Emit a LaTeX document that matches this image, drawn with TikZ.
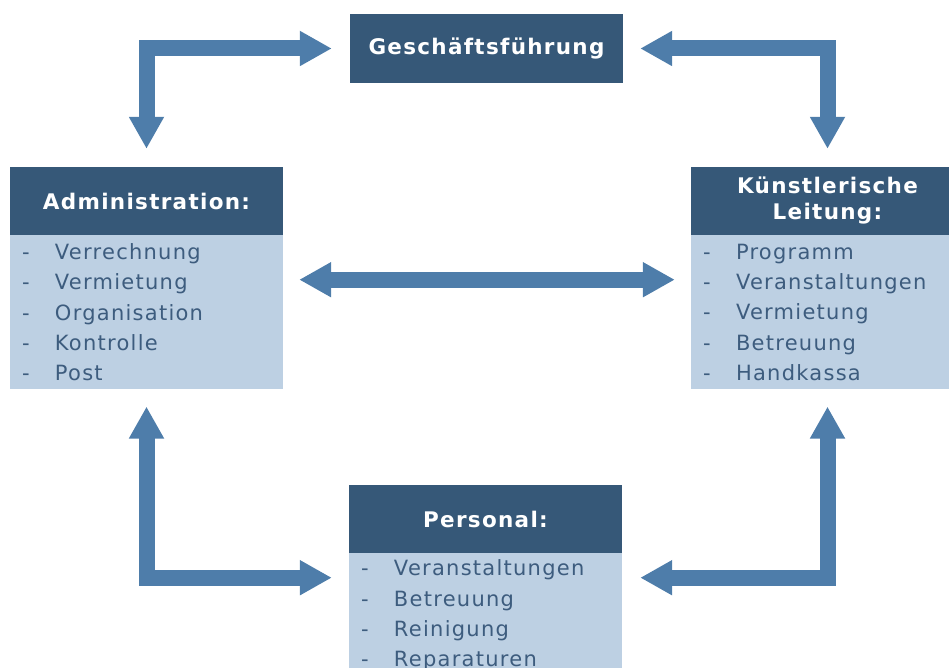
\documentclass[tikz,border=0pt]{standalone}
\usepackage{fontspec}
\setmainfont{DejaVu Sans}[LetterSpace=6]
\usetikzlibrary{arrows.meta}

\definecolor{headblue}{HTML}{365878}
\definecolor{bodyblue}{HTML}{BDD0E3}
\definecolor{arrowblue}{HTML}{4E7DAA}
\definecolor{itemblue}{HTML}{3D5C7E}

\tikzset{
  headbox/.style={fill=headblue, text=white, font=\bfseries\fontsize{21.5}{26}\selectfont,
    minimum width=273pt, minimum height=68pt, inner sep=0pt, align=center},
  listbox/.style={fill=bodyblue, text=itemblue, font=\fontsize{21}{30.3}\selectfont,
    anchor=north, inner xsep=12pt, inner ysep=0pt, text width=249pt, align=left,
    minimum height=154pt},
  blockarrow/.style={draw=arrowblue, line width=16pt, line join=miter, <->},
}
\newcommand{\dashitem}[1]{\makebox[33pt][l]{-}#1}

\begin{document}
\begin{tikzpicture}[x=1pt, y=-1pt, >={Triangle[length=32pt,width=33pt]}]
    \useasboundingbox (0,0) rectangle (949,668);
    \clip (0,0) rectangle (949,668);
    % Draw the top box
    \node[headbox, minimum height=69pt] (gf) at (486.5,48.5) {Geschäftsführung};
    % Draw the left box
    \node[headbox] (admin) at (146.5,201) {Administration:};
    \node[listbox] (adminbody) at (admin.south)
      {\dashitem{Verrechnung}\\ \dashitem{Vermietung}\\ \dashitem{Organisation}\\ \dashitem{Kontrolle}\\ \dashitem{Post}};
    % Draw the right box
    \node[headbox] (kl) at (827.5,201) {Künstlerische\\Leitung:};
    \node[listbox] (klbody) at (kl.south)
      {\dashitem{Programm}\\ \dashitem{Veranstaltungen}\\ \dashitem{Vermietung}\\ \dashitem{Betreuung}\\ \dashitem{Handkassa}};
    % Draw the bottom box
    \node[headbox] (pers) at (485.5,519) {Personal:};
    \node[listbox, minimum height=124pt] (persbody) at (pers.south)
      {\dashitem{Veranstaltungen}\\ \dashitem{Betreuung}\\ \dashitem{Reinigung}\\ \dashitem{Reparaturen}};
    % Add the arrows
    \draw[blockarrow, shorten <=18pt, shorten >=18pt] (admin.north) |- (gf.west);
    \draw[blockarrow, shorten <=18pt, shorten >=17pt] (kl.north) |- (gf.east);
    \draw[blockarrow, shorten <=16pt, shorten >=16pt]
      ([yshift=-44.5pt]adminbody.north east) -- ([yshift=-44.5pt]klbody.north west);
    \draw[blockarrow, shorten <=17pt, shorten >=17pt]
      (adminbody.south) |- ([yshift=-24.5pt]persbody.north west);
    \draw[blockarrow, shorten <=17pt, shorten >=18pt]
      (klbody.south) |- ([yshift=-24.5pt]persbody.north east);
\end{tikzpicture}
\end{document}
